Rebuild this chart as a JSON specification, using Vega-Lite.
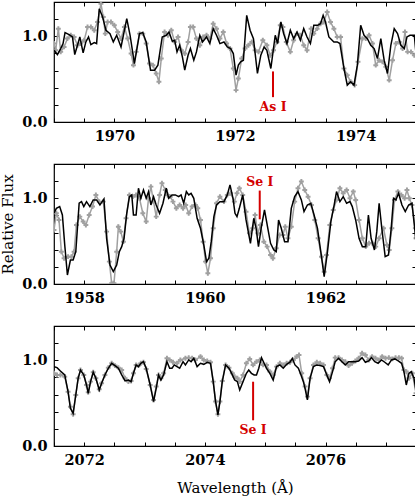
{
"$schema": "https://vega.github.io/schema/vega-lite/v6.json",
"padding": {"left": 0, "top": 0, "right": 2, "bottom": 2},
"spacing": 18,
"datasets": {
"p1b": [{"w":1969.0,"f":0.837},{"w":1969.056,"f":0.787},{"w":1969.111,"f":0.857},{"w":1969.15,"f":0.915},{"w":1969.183,"f":1.043},{"w":1969.25,"f":1.019},{"w":1969.306,"f":0.992},{"w":1969.344,"f":0.787},{"w":1969.389,"f":0.895},{"w":1969.428,"f":0.992},{"w":1969.483,"f":0.806},{"w":1969.528,"f":0.934},{"w":1969.572,"f":0.992},{"w":1969.611,"f":0.903},{"w":1969.667,"f":0.926},{"w":1969.706,"f":0.915},{"w":1969.75,"f":1.322},{"w":1969.806,"f":1.225},{"w":1969.861,"f":1.07},{"w":1969.928,"f":1.031},{"w":1969.983,"f":0.934},{"w":1970.039,"f":1.012},{"w":1970.111,"f":0.876},{"w":1970.206,"f":1.205},{"w":1970.261,"f":1.012},{"w":1970.333,"f":0.682},{"w":1970.417,"f":1.031},{"w":1970.472,"f":1.043},{"w":1970.528,"f":0.934},{"w":1970.6,"f":0.605},{"w":1970.667,"f":0.605},{"w":1970.722,"f":0.663},{"w":1970.794,"f":0.992},{"w":1970.861,"f":1.012},{"w":1970.906,"f":1.05},{"w":1970.961,"f":0.942},{"w":1971.0,"f":0.953},{"w":1971.039,"f":0.818},{"w":1971.083,"f":0.895},{"w":1971.128,"f":0.76},{"w":1971.167,"f":0.605},{"w":1971.222,"f":0.779},{"w":1971.261,"f":0.857},{"w":1971.317,"f":0.721},{"w":1971.361,"f":0.818},{"w":1971.417,"f":1.012},{"w":1971.461,"f":0.934},{"w":1971.528,"f":0.992},{"w":1971.583,"f":0.915},{"w":1971.639,"f":1.089},{"w":1971.694,"f":1.012},{"w":1971.75,"f":0.915},{"w":1971.817,"f":0.934},{"w":1971.872,"f":0.876},{"w":1971.928,"f":0.857},{"w":1971.972,"f":0.798},{"w":1972.017,"f":0.547},{"w":1972.056,"f":0.663},{"w":1972.094,"f":0.702},{"w":1972.139,"f":0.721},{"w":1972.194,"f":1.244},{"w":1972.25,"f":1.07},{"w":1972.306,"f":0.973},{"w":1972.372,"f":0.566},{"w":1972.428,"f":0.779},{"w":1972.483,"f":0.876},{"w":1972.528,"f":0.837},{"w":1972.594,"f":0.624},{"w":1972.667,"f":1.012},{"w":1972.706,"f":0.915},{"w":1972.761,"f":1.167},{"w":1972.806,"f":1.031},{"w":1972.861,"f":0.915},{"w":1972.917,"f":1.07},{"w":1972.972,"f":0.973},{"w":1973.028,"f":1.05},{"w":1973.083,"f":0.953},{"w":1973.139,"f":1.089},{"w":1973.194,"f":0.992},{"w":1973.25,"f":0.915},{"w":1973.306,"f":1.128},{"w":1973.372,"f":1.128},{"w":1973.417,"f":1.147},{"w":1973.461,"f":1.244},{"w":1973.5,"f":1.167},{"w":1973.556,"f":0.992},{"w":1973.639,"f":0.934},{"w":1973.694,"f":0.934},{"w":1973.739,"f":0.915},{"w":1973.806,"f":0.624},{"w":1973.861,"f":0.43},{"w":1973.917,"f":0.469},{"w":1973.972,"f":0.43},{"w":1974.028,"f":0.663},{"w":1974.083,"f":1.128},{"w":1974.139,"f":1.012},{"w":1974.194,"f":0.973},{"w":1974.25,"f":0.895},{"w":1974.306,"f":0.857},{"w":1974.361,"f":0.74},{"w":1974.417,"f":0.973},{"w":1974.472,"f":0.721},{"w":1974.528,"f":0.566},{"w":1974.583,"f":0.895},{"w":1974.639,"f":1.089},{"w":1974.694,"f":1.031},{"w":1974.75,"f":0.895},{"w":1974.806,"f":0.857},{"w":1974.85,"f":0.992},{"w":1974.9,"f":1.012},{"w":1974.972,"f":1.012},{"w":1975.0,"f":0.798}],
"p1g": [{"w":1969.0,"f":0.915},{"w":1969.028,"f":0.837},{"w":1969.072,"f":1.089},{"w":1969.111,"f":0.818},{"w":1969.167,"f":0.876},{"w":1969.222,"f":0.973},{"w":1969.278,"f":1.012},{"w":1969.333,"f":0.992},{"w":1969.389,"f":0.895},{"w":1969.444,"f":0.915},{"w":1969.5,"f":0.953},{"w":1969.556,"f":1.109},{"w":1969.611,"f":1.109},{"w":1969.667,"f":1.07},{"w":1969.722,"f":1.167},{"w":1969.778,"f":1.38},{"w":1969.817,"f":1.225},{"w":1969.85,"f":1.031},{"w":1969.889,"f":1.167},{"w":1969.944,"f":1.167},{"w":1970.0,"f":1.128},{"w":1970.056,"f":1.05},{"w":1970.111,"f":0.973},{"w":1970.167,"f":1.109},{"w":1970.222,"f":0.973},{"w":1970.278,"f":0.798},{"w":1970.317,"f":0.663},{"w":1970.361,"f":0.818},{"w":1970.417,"f":1.031},{"w":1970.472,"f":1.031},{"w":1970.528,"f":0.915},{"w":1970.583,"f":0.682},{"w":1970.639,"f":0.663},{"w":1970.694,"f":0.566},{"w":1970.739,"f":0.469},{"w":1970.778,"f":0.74},{"w":1970.833,"f":1.05},{"w":1970.889,"f":1.012},{"w":1970.944,"f":1.07},{"w":1971.0,"f":0.934},{"w":1971.056,"f":0.992},{"w":1971.111,"f":0.837},{"w":1971.167,"f":0.798},{"w":1971.222,"f":0.934},{"w":1971.261,"f":1.109},{"w":1971.306,"f":1.109},{"w":1971.361,"f":0.973},{"w":1971.417,"f":0.895},{"w":1971.472,"f":0.992},{"w":1971.528,"f":1.012},{"w":1971.583,"f":0.973},{"w":1971.639,"f":1.147},{"w":1971.694,"f":1.089},{"w":1971.75,"f":0.973},{"w":1971.806,"f":1.05},{"w":1971.861,"f":0.915},{"w":1971.917,"f":0.857},{"w":1971.972,"f":0.624},{"w":1972.017,"f":0.372},{"w":1972.056,"f":0.508},{"w":1972.111,"f":0.74},{"w":1972.167,"f":0.857},{"w":1972.222,"f":0.895},{"w":1972.278,"f":0.934},{"w":1972.333,"f":0.837},{"w":1972.389,"f":0.818},{"w":1972.461,"f":0.953},{"w":1972.528,"f":0.895},{"w":1972.583,"f":0.779},{"w":1972.639,"f":0.837},{"w":1972.694,"f":0.934},{"w":1972.75,"f":1.128},{"w":1972.794,"f":1.109},{"w":1972.85,"f":0.934},{"w":1972.917,"f":0.818},{"w":1972.972,"f":0.953},{"w":1973.028,"f":1.031},{"w":1973.083,"f":1.012},{"w":1973.139,"f":0.895},{"w":1973.194,"f":0.837},{"w":1973.261,"f":1.089},{"w":1973.306,"f":1.031},{"w":1973.361,"f":1.089},{"w":1973.417,"f":1.147},{"w":1973.472,"f":1.167},{"w":1973.528,"f":1.283},{"w":1973.583,"f":1.167},{"w":1973.639,"f":1.089},{"w":1973.694,"f":0.992},{"w":1973.75,"f":0.992},{"w":1973.806,"f":0.624},{"w":1973.861,"f":0.547},{"w":1973.917,"f":0.469},{"w":1973.983,"f":0.43},{"w":1974.039,"f":0.702},{"w":1974.111,"f":0.973},{"w":1974.167,"f":0.973},{"w":1974.222,"f":1.012},{"w":1974.278,"f":0.915},{"w":1974.333,"f":0.663},{"w":1974.389,"f":0.721},{"w":1974.444,"f":0.702},{"w":1974.5,"f":0.643},{"w":1974.556,"f":0.488},{"w":1974.611,"f":0.721},{"w":1974.667,"f":0.915},{"w":1974.722,"f":0.934},{"w":1974.778,"f":0.857},{"w":1974.817,"f":1.05},{"w":1974.861,"f":0.818},{"w":1974.917,"f":0.818},{"w":1974.972,"f":0.779}],
"p2b": [{"w":1957.5,"f":0.825},{"w":1957.539,"f":0.883},{"w":1957.594,"f":0.903},{"w":1957.639,"f":0.805},{"w":1957.678,"f":0.455},{"w":1957.722,"f":0.105},{"w":1957.772,"f":0.28},{"w":1957.817,"f":0.28},{"w":1957.861,"f":0.377},{"w":1957.917,"f":0.942},{"w":1957.956,"f":0.961},{"w":1957.994,"f":0.903},{"w":1958.039,"f":0.961},{"w":1958.094,"f":0.903},{"w":1958.15,"f":0.981},{"w":1958.206,"f":0.981},{"w":1958.261,"f":0.922},{"w":1958.328,"f":0.992},{"w":1958.372,"f":0.533},{"w":1958.428,"f":0.222},{"w":1958.483,"f":0.144},{"w":1958.539,"f":0.222},{"w":1958.583,"f":0.377},{"w":1958.622,"f":0.436},{"w":1958.661,"f":0.533},{"w":1958.706,"f":0.825},{"w":1958.75,"f":1.019},{"w":1958.789,"f":1.039},{"w":1958.817,"f":0.805},{"w":1958.861,"f":0.805},{"w":1958.9,"f":1.117},{"w":1958.939,"f":1.0},{"w":1958.983,"f":1.097},{"w":1959.028,"f":1.0},{"w":1959.067,"f":1.078},{"w":1959.106,"f":0.922},{"w":1959.15,"f":1.019},{"w":1959.194,"f":0.922},{"w":1959.25,"f":0.825},{"w":1959.306,"f":0.942},{"w":1959.361,"f":1.117},{"w":1959.4,"f":1.0},{"w":1959.456,"f":1.039},{"w":1959.511,"f":1.039},{"w":1959.567,"f":1.019},{"w":1959.606,"f":1.039},{"w":1959.65,"f":0.942},{"w":1959.694,"f":1.078},{"w":1959.733,"f":1.039},{"w":1959.772,"f":1.058},{"w":1959.817,"f":1.0},{"w":1959.872,"f":0.767},{"w":1959.928,"f":0.65},{"w":1959.983,"f":0.455},{"w":1960.028,"f":0.261},{"w":1960.067,"f":0.3},{"w":1960.106,"f":0.494},{"w":1960.15,"f":0.786},{"w":1960.194,"f":0.922},{"w":1960.25,"f":0.961},{"w":1960.317,"f":0.961},{"w":1960.372,"f":1.039},{"w":1960.417,"f":1.156},{"w":1960.467,"f":1.0},{"w":1960.5,"f":0.825},{"w":1960.533,"f":0.786},{"w":1960.572,"f":0.883},{"w":1960.628,"f":1.039},{"w":1960.683,"f":0.747},{"w":1960.756,"f":0.475},{"w":1960.811,"f":0.767},{"w":1960.85,"f":0.65},{"w":1960.889,"f":0.436},{"w":1960.933,"f":0.65},{"w":1960.989,"f":0.864},{"w":1961.044,"f":0.65},{"w":1961.089,"f":0.475},{"w":1961.144,"f":0.397},{"w":1961.183,"f":0.377},{"w":1961.222,"f":0.747},{"w":1961.267,"f":0.65},{"w":1961.322,"f":0.494},{"w":1961.378,"f":0.494},{"w":1961.433,"f":0.883},{"w":1961.489,"f":1.019},{"w":1961.544,"f":1.078},{"w":1961.6,"f":0.981},{"w":1961.644,"f":0.844},{"w":1961.7,"f":0.922},{"w":1961.756,"f":0.942},{"w":1961.811,"f":0.805},{"w":1961.867,"f":0.65},{"w":1961.922,"f":0.377},{"w":1961.978,"f":0.086},{"w":1962.033,"f":0.377},{"w":1962.089,"f":0.728},{"w":1962.144,"f":0.922},{"w":1962.183,"f":1.078},{"w":1962.239,"f":0.961},{"w":1962.294,"f":1.019},{"w":1962.35,"f":0.942},{"w":1962.406,"f":0.961},{"w":1962.444,"f":0.903},{"w":1962.5,"f":0.747},{"w":1962.556,"f":0.533},{"w":1962.611,"f":0.436},{"w":1962.667,"f":0.436},{"w":1962.711,"f":0.805},{"w":1962.756,"f":0.533},{"w":1962.811,"f":0.397},{"w":1962.85,"f":0.611},{"w":1962.889,"f":0.942},{"w":1962.933,"f":0.65},{"w":1962.989,"f":0.319},{"w":1963.044,"f":0.339},{"w":1963.089,"f":0.65},{"w":1963.128,"f":1.0},{"w":1963.167,"f":0.981},{"w":1963.211,"f":1.058},{"w":1963.267,"f":0.922},{"w":1963.322,"f":0.844},{"w":1963.378,"f":0.922},{"w":1963.433,"f":0.942},{"w":1963.478,"f":0.65},{"w":1963.5,"f":0.475}],
"p2g": [{"w":1957.5,"f":0.63},{"w":1957.539,"f":0.825},{"w":1957.583,"f":0.747},{"w":1957.622,"f":0.377},{"w":1957.667,"f":0.3},{"w":1957.733,"f":0.319},{"w":1957.789,"f":0.319},{"w":1957.833,"f":0.377},{"w":1957.872,"f":0.689},{"w":1957.928,"f":0.786},{"w":1957.983,"f":0.728},{"w":1958.028,"f":0.689},{"w":1958.083,"f":0.805},{"w":1958.139,"f":0.903},{"w":1958.194,"f":1.039},{"w":1958.25,"f":0.961},{"w":1958.317,"f":0.961},{"w":1958.372,"f":0.611},{"w":1958.417,"f":0.261},{"w":1958.456,"f":0.008},{"w":1958.494,"f":0.008},{"w":1958.539,"f":0.377},{"w":1958.567,"f":0.669},{"w":1958.606,"f":0.611},{"w":1958.65,"f":0.494},{"w":1958.694,"f":0.767},{"w":1958.75,"f":1.039},{"w":1958.806,"f":1.019},{"w":1958.861,"f":1.039},{"w":1958.917,"f":1.0},{"w":1958.972,"f":0.825},{"w":1959.028,"f":0.728},{"w":1959.067,"f":1.0},{"w":1959.106,"f":1.136},{"w":1959.15,"f":0.961},{"w":1959.194,"f":0.786},{"w":1959.25,"f":1.039},{"w":1959.289,"f":1.175},{"w":1959.344,"f":1.097},{"w":1959.383,"f":1.039},{"w":1959.428,"f":1.019},{"w":1959.472,"f":0.961},{"w":1959.528,"f":0.883},{"w":1959.583,"f":0.922},{"w":1959.639,"f":0.883},{"w":1959.683,"f":0.922},{"w":1959.733,"f":0.825},{"w":1959.789,"f":0.903},{"w":1959.844,"f":0.922},{"w":1959.883,"f":0.883},{"w":1959.928,"f":0.747},{"w":1959.972,"f":0.494},{"w":1960.011,"f":0.261},{"w":1960.05,"f":0.125},{"w":1960.094,"f":0.3},{"w":1960.139,"f":0.65},{"w":1960.194,"f":0.942},{"w":1960.25,"f":1.019},{"w":1960.317,"f":0.961},{"w":1960.372,"f":1.039},{"w":1960.428,"f":1.058},{"w":1960.489,"f":0.961},{"w":1960.533,"f":1.058},{"w":1960.572,"f":1.117},{"w":1960.628,"f":1.039},{"w":1960.683,"f":0.844},{"w":1960.739,"f":0.591},{"w":1960.794,"f":0.65},{"w":1960.833,"f":0.805},{"w":1960.878,"f":0.591},{"w":1960.922,"f":0.689},{"w":1960.978,"f":0.494},{"w":1961.033,"f":0.436},{"w":1961.089,"f":0.339},{"w":1961.128,"f":0.3},{"w":1961.183,"f":0.416},{"w":1961.239,"f":0.572},{"w":1961.294,"f":0.572},{"w":1961.333,"f":0.669},{"w":1961.378,"f":0.533},{"w":1961.433,"f":0.669},{"w":1961.489,"f":0.961},{"w":1961.544,"f":1.117},{"w":1961.6,"f":1.195},{"w":1961.656,"f":1.097},{"w":1961.711,"f":1.019},{"w":1961.767,"f":0.922},{"w":1961.822,"f":0.747},{"w":1961.878,"f":0.533},{"w":1961.933,"f":0.319},{"w":1961.978,"f":0.144},{"w":1962.017,"f":0.339},{"w":1962.072,"f":0.689},{"w":1962.128,"f":0.864},{"w":1962.183,"f":0.981},{"w":1962.239,"f":1.117},{"w":1962.294,"f":1.058},{"w":1962.35,"f":1.097},{"w":1962.406,"f":1.0},{"w":1962.461,"f":1.078},{"w":1962.5,"f":0.981},{"w":1962.556,"f":0.747},{"w":1962.611,"f":0.533},{"w":1962.667,"f":0.436},{"w":1962.722,"f":0.475},{"w":1962.778,"f":0.475},{"w":1962.833,"f":0.436},{"w":1962.889,"f":0.533},{"w":1962.961,"f":0.65},{"w":1963.017,"f":0.455},{"w":1963.056,"f":0.397},{"w":1963.1,"f":0.65},{"w":1963.144,"f":0.981},{"w":1963.2,"f":1.078},{"w":1963.256,"f":1.039},{"w":1963.311,"f":1.0},{"w":1963.35,"f":1.097},{"w":1963.389,"f":1.0},{"w":1963.433,"f":0.922},{"w":1963.489,"f":0.65},{"w":1963.5,"f":0.533}],
"p3b": [{"w":2071.5,"f":0.926},{"w":2071.55,"f":0.914},{"w":2071.606,"f":0.875},{"w":2071.678,"f":0.829},{"w":2071.733,"f":0.634},{"w":2071.772,"f":0.44},{"w":2071.817,"f":0.381},{"w":2071.861,"f":0.595},{"w":2071.9,"f":0.79},{"w":2071.939,"f":0.887},{"w":2071.994,"f":0.829},{"w":2072.039,"f":0.712},{"w":2072.067,"f":0.615},{"w":2072.106,"f":0.751},{"w":2072.15,"f":0.86},{"w":2072.194,"f":0.79},{"w":2072.25,"f":0.654},{"w":2072.289,"f":0.732},{"w":2072.344,"f":0.829},{"w":2072.4,"f":0.907},{"w":2072.456,"f":0.965},{"w":2072.511,"f":0.938},{"w":2072.567,"f":0.907},{"w":2072.622,"f":0.829},{"w":2072.678,"f":0.759},{"w":2072.733,"f":0.77},{"w":2072.778,"f":0.751},{"w":2072.817,"f":0.848},{"w":2072.861,"f":0.946},{"w":2072.9,"f":0.926},{"w":2072.939,"f":0.965},{"w":2072.983,"f":0.984},{"w":2073.028,"f":0.907},{"w":2073.094,"f":0.712},{"w":2073.15,"f":0.518},{"w":2073.194,"f":0.673},{"w":2073.233,"f":0.829},{"w":2073.272,"f":0.77},{"w":2073.317,"f":0.829},{"w":2073.372,"f":0.984},{"w":2073.417,"f":0.907},{"w":2073.456,"f":0.907},{"w":2073.494,"f":0.946},{"w":2073.539,"f":0.926},{"w":2073.583,"f":0.907},{"w":2073.639,"f":0.984},{"w":2073.678,"f":0.946},{"w":2073.733,"f":1.004},{"w":2073.772,"f":0.984},{"w":2073.817,"f":1.023},{"w":2073.872,"f":0.926},{"w":2073.928,"f":0.965},{"w":2073.983,"f":0.953},{"w":2074.039,"f":0.977},{"w":2074.094,"f":0.965},{"w":2074.139,"f":0.751},{"w":2074.178,"f":0.518},{"w":2074.217,"f":0.362},{"w":2074.25,"f":0.518},{"w":2074.289,"f":0.751},{"w":2074.344,"f":0.946},{"w":2074.4,"f":0.907},{"w":2074.456,"f":0.829},{"w":2074.494,"f":0.77},{"w":2074.539,"f":0.751},{"w":2074.578,"f":0.654},{"w":2074.633,"f":0.751},{"w":2074.689,"f":0.848},{"w":2074.728,"f":0.887},{"w":2074.772,"f":0.848},{"w":2074.817,"f":0.829},{"w":2074.856,"f":0.829},{"w":2074.894,"f":0.907},{"w":2074.939,"f":1.031},{"w":2074.983,"f":0.965},{"w":2075.022,"f":0.907},{"w":2075.078,"f":0.848},{"w":2075.133,"f":0.77},{"w":2075.189,"f":0.926},{"w":2075.244,"f":0.946},{"w":2075.3,"f":0.907},{"w":2075.356,"f":0.953},{"w":2075.411,"f":0.977},{"w":2075.45,"f":1.023},{"w":2075.494,"f":0.946},{"w":2075.55,"f":0.907},{"w":2075.594,"f":0.829},{"w":2075.633,"f":0.751},{"w":2075.661,"f":0.673},{"w":2075.7,"f":0.537},{"w":2075.744,"f":0.79},{"w":2075.8,"f":0.926},{"w":2075.856,"f":0.946},{"w":2075.911,"f":0.938},{"w":2075.967,"f":0.926},{"w":2076.022,"f":0.829},{"w":2076.067,"f":0.751},{"w":2076.117,"f":0.868},{"w":2076.161,"f":0.984},{"w":2076.217,"f":1.023},{"w":2076.272,"f":0.984},{"w":2076.328,"f":0.946},{"w":2076.383,"f":0.984},{"w":2076.439,"f":0.984},{"w":2076.494,"f":0.984},{"w":2076.55,"f":0.992},{"w":2076.606,"f":1.031},{"w":2076.661,"f":0.977},{"w":2076.717,"f":0.992},{"w":2076.761,"f":1.031},{"w":2076.817,"f":0.984},{"w":2076.872,"f":0.965},{"w":2076.928,"f":1.004},{"w":2076.983,"f":0.977},{"w":2077.039,"f":0.946},{"w":2077.094,"f":1.004},{"w":2077.15,"f":1.016},{"w":2077.206,"f":0.992},{"w":2077.261,"f":0.965},{"w":2077.3,"f":0.868},{"w":2077.339,"f":0.712},{"w":2077.383,"f":0.848},{"w":2077.422,"f":0.868},{"w":2077.467,"f":0.79},{"w":2077.494,"f":0.673},{"w":2077.5,"f":0.595}],
"p3g": [{"w":2071.5,"f":0.848},{"w":2071.55,"f":0.829},{"w":2071.606,"f":0.829},{"w":2071.678,"f":0.809},{"w":2071.733,"f":0.634},{"w":2071.772,"f":0.459},{"w":2071.817,"f":0.37},{"w":2071.861,"f":0.595},{"w":2071.9,"f":0.79},{"w":2071.939,"f":0.887},{"w":2071.994,"f":0.829},{"w":2072.039,"f":0.712},{"w":2072.067,"f":0.626},{"w":2072.106,"f":0.751},{"w":2072.15,"f":0.86},{"w":2072.194,"f":0.79},{"w":2072.25,"f":0.661},{"w":2072.289,"f":0.732},{"w":2072.344,"f":0.829},{"w":2072.4,"f":0.914},{"w":2072.456,"f":0.965},{"w":2072.511,"f":0.938},{"w":2072.567,"f":0.914},{"w":2072.622,"f":0.887},{"w":2072.678,"f":0.79},{"w":2072.733,"f":0.751},{"w":2072.778,"f":0.759},{"w":2072.817,"f":0.848},{"w":2072.861,"f":0.946},{"w":2072.9,"f":0.938},{"w":2072.939,"f":0.965},{"w":2072.983,"f":0.977},{"w":2073.028,"f":0.899},{"w":2073.094,"f":0.712},{"w":2073.15,"f":0.537},{"w":2073.194,"f":0.693},{"w":2073.233,"f":0.829},{"w":2073.272,"f":0.79},{"w":2073.317,"f":0.848},{"w":2073.372,"f":1.023},{"w":2073.417,"f":1.004},{"w":2073.472,"f":0.977},{"w":2073.539,"f":0.965},{"w":2073.594,"f":1.004},{"w":2073.678,"f":1.023},{"w":2073.733,"f":1.031},{"w":2073.789,"f":1.023},{"w":2073.844,"f":1.004},{"w":2073.928,"f":1.043},{"w":2073.983,"f":1.004},{"w":2074.039,"f":0.992},{"w":2074.094,"f":0.977},{"w":2074.139,"f":0.751},{"w":2074.178,"f":0.518},{"w":2074.217,"f":0.37},{"w":2074.25,"f":0.518},{"w":2074.289,"f":0.759},{"w":2074.344,"f":0.946},{"w":2074.4,"f":0.914},{"w":2074.456,"f":0.848},{"w":2074.494,"f":0.809},{"w":2074.539,"f":0.79},{"w":2074.578,"f":0.751},{"w":2074.633,"f":0.829},{"w":2074.689,"f":0.965},{"w":2074.744,"f":1.016},{"w":2074.8,"f":0.946},{"w":2074.856,"f":0.984},{"w":2074.911,"f":1.004},{"w":2074.967,"f":0.946},{"w":2075.022,"f":0.946},{"w":2075.078,"f":0.868},{"w":2075.133,"f":0.829},{"w":2075.189,"f":0.926},{"w":2075.244,"f":0.965},{"w":2075.3,"f":0.946},{"w":2075.356,"f":0.965},{"w":2075.411,"f":0.977},{"w":2075.467,"f":1.004},{"w":2075.522,"f":1.043},{"w":2075.561,"f":1.062},{"w":2075.606,"f":0.848},{"w":2075.661,"f":0.693},{"w":2075.7,"f":0.576},{"w":2075.744,"f":0.79},{"w":2075.8,"f":0.946},{"w":2075.856,"f":0.977},{"w":2075.911,"f":0.965},{"w":2075.967,"f":0.946},{"w":2076.022,"f":0.829},{"w":2076.067,"f":0.79},{"w":2076.117,"f":0.907},{"w":2076.161,"f":1.031},{"w":2076.217,"f":1.031},{"w":2076.272,"f":1.004},{"w":2076.328,"f":0.984},{"w":2076.383,"f":0.938},{"w":2076.439,"f":0.965},{"w":2076.494,"f":0.992},{"w":2076.55,"f":1.023},{"w":2076.606,"f":1.082},{"w":2076.661,"f":1.062},{"w":2076.717,"f":1.004},{"w":2076.772,"f":1.043},{"w":2076.828,"f":1.023},{"w":2076.883,"f":1.004},{"w":2076.939,"f":1.043},{"w":2076.994,"f":1.023},{"w":2077.05,"f":1.031},{"w":2077.106,"f":1.016},{"w":2077.161,"f":1.031},{"w":2077.217,"f":1.031},{"w":2077.261,"f":1.023},{"w":2077.3,"f":0.887},{"w":2077.339,"f":0.868},{"w":2077.383,"f":0.79},{"w":2077.439,"f":0.848},{"w":2077.5,"f":0.615}],
"m1": [{"w":1972.63,"y1":0.59,"y2":0.29,"ty":0.175,"label":"As I"}],
"m2": [{"w":1960.91,"y1":1.09,"y2":0.755,"ty":1.19,"label":"Se I"}],
"m3": [{"w":2074.8,"y1":0.75,"y2":0.3,"ty":0.19,"label":"Se I"}]
},
"vconcat": [
{
"width": 362, "height": 120,
"resolve": {"axis": {"x": "independent", "y": "independent"}},
"layer": [
{"data": {"name": "p1g"}, "mark": {"type": "line", "color": "#a0a0a0", "strokeWidth": 1.5, "clip": true, "point": {"shape": "cross", "size": 24, "color": "#a0a0a0", "filled": true}},
 "encoding": {"x": {"field": "w", "type": "quantitative", "scale": {"domain": [1969, 1975], "nice": false, "zero": false}, "axis": null},
  "y": {"field": "f", "type": "quantitative", "scale": {"domain": [0, 1.4], "nice": false}, "axis": null}}},
{"data": {"name": "p1b"}, "mark": {"type": "line", "color": "black", "strokeWidth": 1.5, "clip": true},
 "encoding": {"x": {"field": "w", "type": "quantitative", "scale": {"domain": [1969, 1975], "nice": false, "zero": false}, "axis": {"orient": "bottom", "values": [1969,1969.5,1970,1970.5,1971,1971.5,1972,1972.5,1973,1973.5,1974,1974.5,1975], "labelExpr": "datum.value % 2 == 0 ? format(datum.value, 'd') : ''", "title": null}},
  "y": {"field": "f", "type": "quantitative", "scale": {"domain": [0, 1.4], "nice": false}, "axis": {"orient": "left", "values": [0,0.2,0.4,0.6,0.8,1,1.2], "labelExpr": "(datum.value == 0 || datum.value == 1) ? format(datum.value, '.1f') : ''", "title": null}}}},
{"data": {"name": "m1"}, "mark": {"type": "rule", "color": "#d40000", "strokeWidth": 2},
 "encoding": {"x": {"field": "w", "type": "quantitative", "axis": null}, "y": {"field": "y1", "type": "quantitative", "axis": null}, "y2": {"field": "y2"}}},
{"data": {"name": "m1"}, "mark": {"type": "text", "color": "#d40000", "font": "DejaVu Serif", "fontWeight": "bold", "fontSize": 12.5},
 "encoding": {"x": {"field": "w", "type": "quantitative", "axis": null}, "y": {"field": "ty", "type": "quantitative", "axis": null}, "text": {"field": "label"}}},
{"data": {"name": "p1b"}, "mark": {"type": "point", "opacity": 0},
 "encoding": {"x": {"field": "w", "type": "quantitative", "axis": {"orient": "top", "values": [1969,1969.5,1970,1970.5,1971,1971.5,1972,1972.5,1973,1973.5,1974,1974.5,1975], "labels": false, "title": null}},
  "y": {"field": "f", "type": "quantitative", "axis": {"orient": "right", "values": [0,0.2,0.4,0.6,0.8,1,1.2], "labels": false, "title": null}}}}
]
},
{
"width": 362, "height": 120,
"resolve": {"axis": {"x": "independent", "y": "independent"}},
"layer": [
{"data": {"name": "p2g"}, "mark": {"type": "line", "color": "#a0a0a0", "strokeWidth": 1.5, "clip": true, "point": {"shape": "cross", "size": 24, "color": "#a0a0a0", "filled": true}},
 "encoding": {"x": {"field": "w", "type": "quantitative", "scale": {"domain": [1957.5, 1963.5], "nice": false, "zero": false}, "axis": null},
  "y": {"field": "f", "type": "quantitative", "scale": {"domain": [0, 1.4], "nice": false}, "axis": null}}},
{"data": {"name": "p2b"}, "mark": {"type": "line", "color": "black", "strokeWidth": 1.5, "clip": true},
 "encoding": {"x": {"field": "w", "type": "quantitative", "scale": {"domain": [1957.5, 1963.5], "nice": false, "zero": false}, "axis": {"orient": "bottom", "values": [1957.5,1958,1958.5,1959,1959.5,1960,1960.5,1961,1961.5,1962,1962.5,1963,1963.5], "labelExpr": "datum.value % 2 == 0 ? format(datum.value, 'd') : ''", "title": null}},
  "y": {"field": "f", "type": "quantitative", "scale": {"domain": [0, 1.4], "nice": false}, "axis": {"orient": "left", "values": [0,0.2,0.4,0.6,0.8,1,1.2], "labelExpr": "(datum.value == 0 || datum.value == 1) ? format(datum.value, '.1f') : ''", "title": "Relative Flux", "titlePadding": 6}}}},
{"data": {"name": "m2"}, "mark": {"type": "rule", "color": "#d40000", "strokeWidth": 2},
 "encoding": {"x": {"field": "w", "type": "quantitative", "axis": null}, "y": {"field": "y1", "type": "quantitative", "axis": null}, "y2": {"field": "y2"}}},
{"data": {"name": "m2"}, "mark": {"type": "text", "color": "#d40000", "font": "DejaVu Serif", "fontWeight": "bold", "fontSize": 12.5},
 "encoding": {"x": {"field": "w", "type": "quantitative", "axis": null}, "y": {"field": "ty", "type": "quantitative", "axis": null}, "text": {"field": "label"}}},
{"data": {"name": "p2b"}, "mark": {"type": "point", "opacity": 0},
 "encoding": {"x": {"field": "w", "type": "quantitative", "axis": {"orient": "top", "values": [1957.5,1958,1958.5,1959,1959.5,1960,1960.5,1961,1961.5,1962,1962.5,1963,1963.5], "labels": false, "title": null}},
  "y": {"field": "f", "type": "quantitative", "axis": {"orient": "right", "values": [0,0.2,0.4,0.6,0.8,1,1.2], "labels": false, "title": null}}}}
]
},
{
"width": 362, "height": 120,
"resolve": {"axis": {"x": "independent", "y": "independent"}},
"layer": [
{"data": {"name": "p3g"}, "mark": {"type": "line", "color": "#a0a0a0", "strokeWidth": 1.5, "clip": true, "point": {"shape": "cross", "size": 24, "color": "#a0a0a0", "filled": true}},
 "encoding": {"x": {"field": "w", "type": "quantitative", "scale": {"domain": [2071.5, 2077.5], "nice": false, "zero": false}, "axis": null},
  "y": {"field": "f", "type": "quantitative", "scale": {"domain": [0, 1.4], "nice": false}, "axis": null}}},
{"data": {"name": "p3b"}, "mark": {"type": "line", "color": "black", "strokeWidth": 1.5, "clip": true},
 "encoding": {"x": {"field": "w", "type": "quantitative", "scale": {"domain": [2071.5, 2077.5], "nice": false, "zero": false}, "axis": {"orient": "bottom", "values": [2071.5,2072,2072.5,2073,2073.5,2074,2074.5,2075,2075.5,2076,2076.5,2077,2077.5], "labelExpr": "datum.value % 2 == 0 ? format(datum.value, 'd') : ''", "title": "Wavelength (Å)", "titlePadding": 14}},
  "y": {"field": "f", "type": "quantitative", "scale": {"domain": [0, 1.4], "nice": false}, "axis": {"orient": "left", "values": [0,0.2,0.4,0.6,0.8,1,1.2], "labelExpr": "(datum.value == 0 || datum.value == 1) ? format(datum.value, '.1f') : ''", "title": null}}}},
{"data": {"name": "m3"}, "mark": {"type": "rule", "color": "#d40000", "strokeWidth": 2},
 "encoding": {"x": {"field": "w", "type": "quantitative", "axis": null}, "y": {"field": "y1", "type": "quantitative", "axis": null}, "y2": {"field": "y2"}}},
{"data": {"name": "m3"}, "mark": {"type": "text", "color": "#d40000", "font": "DejaVu Serif", "fontWeight": "bold", "fontSize": 12.5},
 "encoding": {"x": {"field": "w", "type": "quantitative", "axis": null}, "y": {"field": "ty", "type": "quantitative", "axis": null}, "text": {"field": "label"}}},
{"data": {"name": "p3b"}, "mark": {"type": "point", "opacity": 0},
 "encoding": {"x": {"field": "w", "type": "quantitative", "axis": {"orient": "top", "values": [2071.5,2072,2072.5,2073,2073.5,2074,2074.5,2075,2075.5,2076,2076.5,2077,2077.5], "labels": false, "title": null}},
  "y": {"field": "f", "type": "quantitative", "axis": {"orient": "right", "values": [0,0.2,0.4,0.6,0.8,1,1.2], "labels": false, "title": null}}}}
]
}
],
"config": {
 "view": {"stroke": "black", "strokeWidth": 1.2},
 "axis": {"grid": false, "domain": false, "ticks": true, "tickColor": "black", "tickSize": -4, "tickWidth": 1, "labelFont": "DejaVu Serif", "labelFontSize": 14.5, "labelFontWeight": "bold", "labelColor": "black", "labelPadding": 11, "titleFont": "DejaVu Serif", "titleFontSize": 15, "titleFontWeight": "normal", "titleColor": "black"}
}
}
